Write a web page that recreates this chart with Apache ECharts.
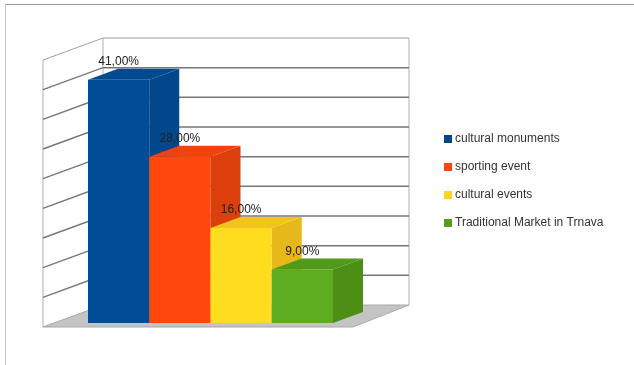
<!DOCTYPE html>
<html>
<head>
<meta charset="utf-8">
<style>
html,body{margin:0;padding:0;background:#fff;overflow:hidden}
#frame{position:absolute;left:5px;top:4px;width:640px;height:380px;border-left:1px solid #c4c4c4;border-top:1px solid #999}
#c{position:absolute;left:0;top:0;width:634px;height:365px;filter:blur(0.5px)}
</style>
<script src="https://cdn.jsdelivr.net/npm/echarts@6/dist/echarts.min.js"></script>
</head>
<body>
<div id="frame"></div>
<div id="c"></div>
<script>
const categories = ['cultural monuments', 'sporting event', 'cultural events', 'Traditional Market in Trnava'];
const values = [41, 28, 16, 9];
const labels = ['41,00%', '28,00%', '16,00%', '9,00%'];
const colors = ['#004d96', '#ff470e', '#ffdd1e', '#5dab1e'];
const sideColors = ['#00478c', '#dc3f0c', '#e6b81a', '#4c8f14'];
const topColors = ['#004a90', '#f5420d', '#f0c41c', '#509a18'];
const legendColors = ['#004586', '#ff420e', '#ffd320', '#579d1c'];
const ticks = [0, 5, 10, 15, 20, 25, 30, 35, 40, 45];

const DX = 30, DY = 11;

function wallItem(params, api) {
  const v = api.value(0);
  const w = api.size([1, 0])[0];
  const baseLeft = api.coord([0, 0])[0] - w / 2;
  const y = api.coord([0, v])[1];
  const y0 = api.coord([0, 0])[1];
  const yTop = api.coord([0, ticks[ticks.length - 1]])[1];
  const fx = baseLeft - 45, bx = baseLeft + 15, rx = baseLeft + 321, frx = baseLeft + 265;
  const line = '#777';
  const children = [];
  if (v === 0) {
    children.push({type: 'polygon', shape: {points: [[fx, y0 + 4], [frx, y0 + 4], [rx, y0 - 18], [bx, y0 - 18]]},
      style: {fill: '#c4c4c4', stroke: '#a8a8a8', lineWidth: 1}});
    children.push({type: 'polyline', shape: {points: [[fx, y0 + 4], [fx, yTop + 4]]}, style: {stroke: '#b0b0b0', lineWidth: 1, fill: 'none'}});
    children.push({type: 'polyline', shape: {points: [[bx, y0 - 18], [bx, yTop - 18]]}, style: {stroke: '#b0b0b0', lineWidth: 1, fill: 'none'}});
    children.push({type: 'polyline', shape: {points: [[rx, y0 - 18], [rx, yTop - 18]]}, style: {stroke: '#b0b0b0', lineWidth: 1, fill: 'none'}});
  } else {
    const isTop = v === ticks[ticks.length - 1];
    children.push({type: 'polyline', shape: {points: [[fx, y + 4], [bx, y - 18], [rx, y - 18]]},
      style: {stroke: isTop ? '#a0a0a0' : line, lineWidth: isTop ? 1 : 1.5, fill: 'none'}});
  }
  return {type: 'group', children};
}

function barItem(i) {
  return function (params, api) {
    const w = api.size([1, 0])[0];
    const cx = api.coord([api.value(0), 0])[0];
    const l = cx - w / 2, r = cx + w / 2;
    const y0 = api.coord([api.value(0), 0])[1];
    const y1 = api.coord([api.value(0), api.value(1)])[1];
    return {type: 'group', children: [
      {type: 'polygon', shape: {points: [[r, y1], [r + DX, y1 - DY], [r + DX, y0 - DY], [r, y0]]}, style: {fill: sideColors[i]}},
      {type: 'polygon', shape: {points: [[l, y1], [l + DX, y1 - DY], [r + DX, y1 - DY], [r, y1]]}, style: {fill: topColors[i]}},
      {type: 'rect', shape: {x: l, y: y1, width: w, height: y0 - y1}, style: {fill: colors[i]}},
      {type: 'text', style: {x: cx, y: y1 - DY - 7, text: labels[i], fill: '#222', font: '12px "Liberation Sans"', align: 'center', verticalAlign: 'middle'}, z2: 100}
    ]};
  };
}

const series = [{
  name: 'walls', type: 'custom', renderItem: wallItem, z: 1, silent: true,
  data: ticks.map(t => [t]), encode: {x: -1, y: 0}
}];
categories.forEach((c, i) => {
  series.push({
    name: c, type: 'custom', renderItem: barItem(i), z: 2 + i,
    itemStyle: {color: legendColors[i]},
    data: [[i, values[i]]], encode: {x: 0, y: 1}
  });
});

const chart = echarts.init(document.getElementById('c'), null, {renderer: 'canvas'});
chart.setOption({
  animation: false,
  backgroundColor: 'transparent',
  grid: {left: 88, top: 56, width: 245, height: 267},
  xAxis: {type: 'category', data: categories, show: false},
  yAxis: {type: 'value', min: 0, max: 45, interval: 5, show: false},
  legend: {
    orient: 'vertical', left: 439, top: 128,
    data: categories.map(name => ({name, icon: 'rect'})),
    itemWidth: 8, itemHeight: 8, itemGap: 16,
    textStyle: {fontFamily: 'Liberation Sans', fontSize: 12, color: '#333', padding: [0, 0, 0, -2]}
  },
  series
});
</script>
</body>
</html>
